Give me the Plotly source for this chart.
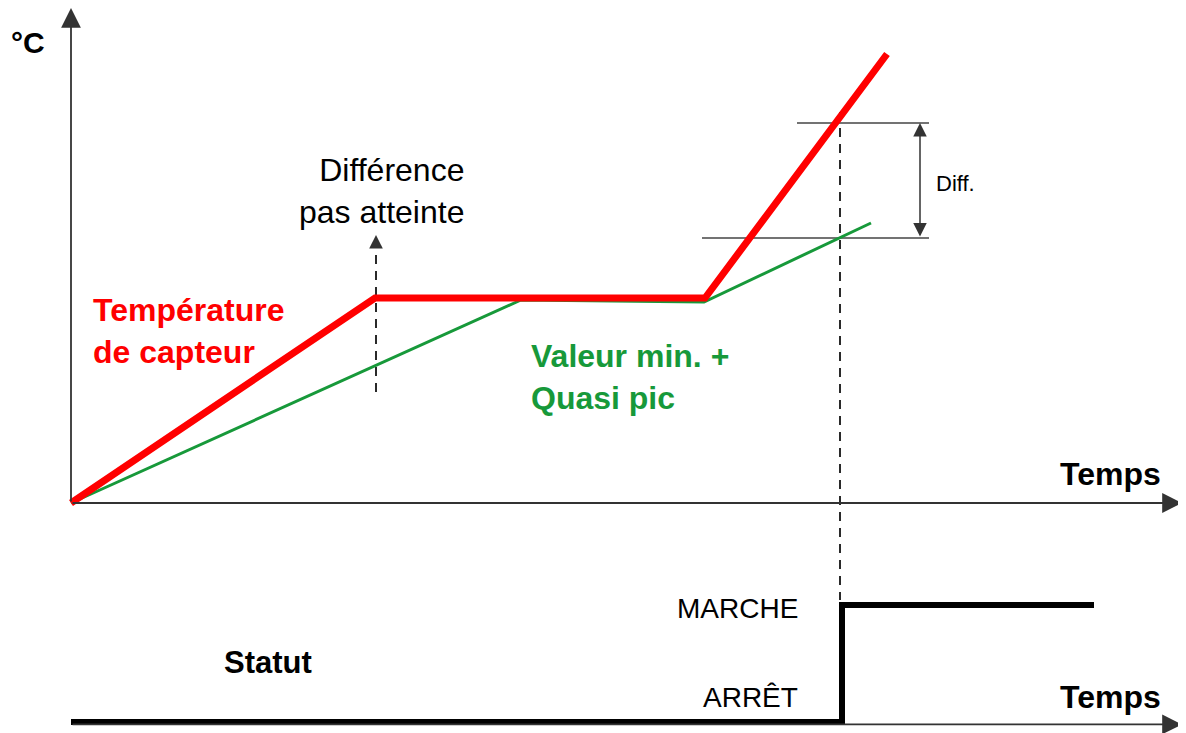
import plotly.graph_objects as go

# ---- data (time / temperature in arbitrary diagram units) ----
red_t = [0, 30.4, 63.4, 81.6]
red_T = [0, 20.5, 20.5, 44.9]
green_t = [0, 45.0, 63.3, 80.0]
green_T = [0, 20.3, 20.1, 28.0]

diff_time = 76.9          # moment the difference is reached
diff_high = [72.6, 85.8]  # extent of upper reference line
diff_low = [63.1, 85.8]   # extent of lower reference line
diff_T_high = 38.0
diff_T_low = 26.5
diff_arrow_t = 84.9

probe_t = 30.5            # "Différence pas atteinte" time
probe_T = [11.1, 26.2]

status_t = [0, 77.1, 77.1, 102.3]
status_v = [0, 0, 1, 1]

axis_end_t = 111.1
axis_top_T = 49.5

FONT = "Liberation Sans, Arial, sans-serif"
RED = "#ff0000"
GREEN = "#17993a"
AX = "#333333"

fig = go.Figure()

# reference horizontal lines for Diff.
fig.add_trace(go.Scatter(x=diff_high, y=[diff_T_high] * 2, mode="lines",
                         line=dict(color="#444444", width=1.5), hoverinfo="skip"))
fig.add_trace(go.Scatter(x=diff_low, y=[diff_T_low] * 2, mode="lines",
                         line=dict(color="#444444", width=1.5), hoverinfo="skip"))

# dashed verticals
fig.add_trace(go.Scatter(x=[diff_time, diff_time], y=[39.1, -9.7], mode="lines",
                         line=dict(color="#2a2a2a", width=2, dash="9px,7px"), hoverinfo="skip"))
fig.add_trace(go.Scatter(x=[probe_t, probe_t], y=probe_T, mode="lines",
                         line=dict(color="#2a2a2a", width=2, dash="9px,7px"), hoverinfo="skip"))

# series
fig.add_trace(go.Scatter(x=green_t, y=green_T, mode="lines",
                         line=dict(color=GREEN, width=3), hoverinfo="skip"))
fig.add_trace(go.Scatter(x=red_t, y=red_T, mode="lines",
                         line=dict(color=RED, width=7), hoverinfo="skip"))

# status step
fig.add_trace(go.Scatter(x=status_t, y=status_v, mode="lines", yaxis="y2",
                         line=dict(color="black", width=6), hoverinfo="skip"))

anns = []
def arrow(x, y, ax, ay, yref="y", side="end", w=1.8, size=2.2):
    anns.append(dict(x=x, y=y, ax=ax, ay=ay, xref="x", yref=yref, axref="x", ayref=yref,
                     showarrow=True, arrowhead=2, arrowsize=size, arrowwidth=w,
                     arrowcolor=AX, arrowside=side, standoff=0, startstandoff=0, text=""))

# axes
arrow(0, axis_top_T, 0, 0)
arrow(axis_end_t, 0, 0, 0)
arrow(axis_end_t, -0.02, 0, -0.02, yref="y2")
# probe arrow head
arrow(probe_t, 26.8, probe_t, 25.6, w=1.6, size=1.7)
# Diff double arrow
arrow(diff_arrow_t, diff_T_high, diff_arrow_t, diff_T_low, side="end+start", w=1.5, size=1.8)

def label(x, y, text, size, color="black", bold=False, xanchor="center", align="center"):
    t = f"<b>{text}</b>" if bold else text
    anns.append(dict(x=x, y=y, xref="x", yref="y", text=t, showarrow=False,
                     xanchor=xanchor, yanchor="middle", align=align,
                     font=dict(family=FONT, size=size, color=color)))

label(-4.3, 46.1, "°C", 30, bold=True)
label(39.5, 31.2, "Différence<br>pas atteinte", 32, xanchor="right", align="right")
label(2.0, 17.2, "Température<br>de capteur", 32, color=RED, bold=True, xanchor="left", align="left")
label(45.8, 12.6, "Valeur min. +<br>Quasi pic", 32, color=GREEN, bold=True, xanchor="left", align="left")
label(103.9, 2.9, "Temps", 32, bold=True)
label(103.9, -19.4, "Temps", 32, bold=True)
label(19.7, -15.9, "Statut", 31, bold=True)
label(72.9, -10.5, "MARCHE", 28, xanchor="right")
label(72.9, -19.4, "ARRÊT", 28, xanchor="right")
label(86.3, 32.0, "Diff.", 22, xanchor="left")

# page body has an 8px margin: map data so it lands on reference page pixels
fig.update_layout(
    width=1186, height=733,
    margin=dict(l=0, r=0, t=0, b=0),
    paper_bgcolor="white", plot_bgcolor="white",
    showlegend=False,
    xaxis=dict(range=[-6.3, 112.3], visible=False, fixedrange=True),
    yaxis=dict(range=[-23.8, 49.5], visible=False, fixedrange=True),
    yaxis2=dict(range=[-0.162, 6.103], visible=False, overlaying="y", fixedrange=True),
    annotations=anns,
)

fig.write_html("out.html")
